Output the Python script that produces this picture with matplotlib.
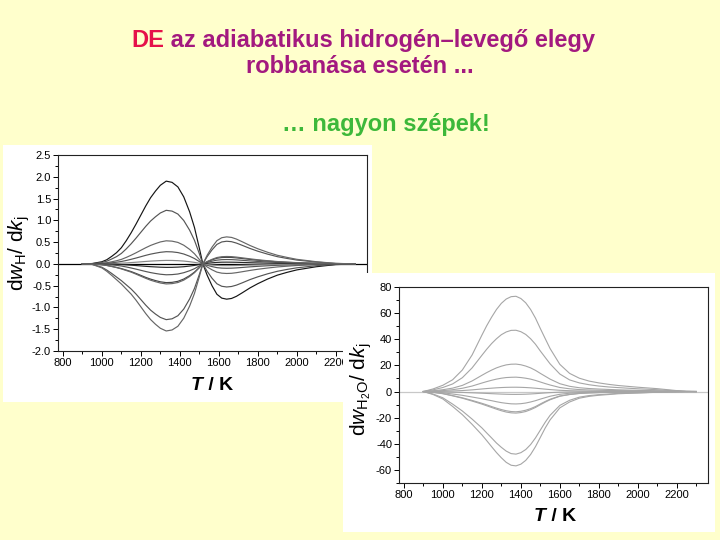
import matplotlib
matplotlib.use('Agg')
import matplotlib.pyplot as plt
from matplotlib.patches import Rectangle
from matplotlib.ticker import MultipleLocator, FormatStrFormatter

plt.rcParams['font.family'] = ['Liberation Sans', 'DejaVu Sans']
plt.rcParams['mathtext.fontset'] = 'custom'
plt.rcParams['mathtext.rm'] = 'Liberation Sans'
plt.rcParams['mathtext.it'] = 'Liberation Sans:italic'
plt.rcParams['mathtext.bf'] = 'Liberation Sans:bold'

# ---------------- data: left chart (dwH/dkj) ----------------
T_left = [900, 950, 1000, 1025, 1050, 1075, 1100, 1125, 1150, 1175, 1200, 1225, 1250, 1275, 1300,
          1330, 1360, 1390, 1420, 1450, 1475, 1500, 1518,
          1540, 1565, 1590, 1615, 1640, 1665, 1690, 1720, 1760, 1800, 1850, 1900, 1950, 2000,
          2100, 2200, 2300]
h_curve_a = [0, 0.008, 0.049, 0.095, 0.171, 0.257, 0.371, 0.532, 0.713, 0.912, 1.121, 1.33, 1.52,
             1.672, 1.805, 1.90, 1.872, 1.767, 1.539, 1.197, 0.836, 0.361, 0,
             -0.259, -0.502, -0.697, -0.786, -0.81, -0.794, -0.745, -0.664, -0.551, -0.454, -0.348,
             -0.259, -0.194, -0.138, -0.065, -0.016, 0]
h_curve_b = [0, 0.005, 0.032, 0.062, 0.111, 0.166, 0.24, 0.344, 0.461, 0.59, 0.726, 0.861, 0.984,
             1.082, 1.169, 1.23, 1.212, 1.144, 0.996, 0.775, 0.541, 0.234, 0,
             -0.17, -0.329, -0.456, -0.514, -0.53, -0.519, -0.488, -0.435, -0.36, -0.297, -0.228,
             -0.17, -0.127, -0.09, -0.042, -0.011, 0]
h_curve_c = [0, 0.002, 0.014, 0.027, 0.048, 0.072, 0.103, 0.148, 0.199, 0.254, 0.313, 0.371, 0.424,
             0.466, 0.504, 0.53, 0.522, 0.493, 0.429, 0.334, 0.233, 0.101, 0,
             -0.07, -0.136, -0.189, -0.213, -0.22, -0.216, -0.202, -0.18, -0.15, -0.123, -0.095,
             -0.07, -0.053, -0.037, -0.018, -0.004, 0]
h_curve_d = [0, 0.001, 0.007, 0.014, 0.025, 0.038, 0.055, 0.078, 0.105, 0.134, 0.165, 0.196, 0.224,
             0.246, 0.266, 0.28, 0.276, 0.26, 0.227, 0.176, 0.123, 0.053, 0,
             -0.032, -0.062, -0.086, -0.097, -0.10, -0.098, -0.092, -0.082, -0.068, -0.056, -0.043,
             -0.032, -0.024, -0.017, -0.008, -0.002, 0]
h_curve_e = [0, 0, 0.002, 0.004, 0.007, 0.011, 0.016, 0.022, 0.03, 0.038, 0.047, 0.056, 0.064,
             0.07, 0.076, 0.08, 0.079, 0.074, 0.065, 0.05, 0.035, 0.015, 0,
             -0.013, -0.025, -0.034, -0.039, -0.04, -0.039, -0.037, -0.033, -0.027, -0.022, -0.017,
             -0.013, -0.01, -0.007, -0.003, -0.001, 0]
h_curve_f = [0, 0, -0.002, -0.004, -0.007, -0.011, -0.016, -0.022, -0.03, -0.038, -0.047, -0.056, -0.064,
             -0.07, -0.076, -0.08, -0.079, -0.074, -0.065, -0.05, -0.035, -0.015, 0,
             0.013, 0.025, 0.034, 0.039, 0.04, 0.039, 0.037, 0.033, 0.027, 0.022, 0.017,
             0.013, 0.01, 0.007, 0.003, 0.001, 0]
h_curve_g = [0, -0.001, -0.0065, -0.0125, -0.0225, -0.034, -0.049, -0.07, -0.094, -0.12, -0.1475, -0.175,
             -0.20, -0.22, -0.2375, -0.25, -0.246, -0.2325, -0.2025, -0.1575, -0.11, -0.0475, 0,
             0.032, 0.062, 0.086, 0.097, 0.10, 0.098, 0.092, 0.082, 0.068, 0.056, 0.043,
             0.032, 0.024, 0.017, 0.008, 0.002, 0]
h_curve_h = [0, -0.003, -0.018, -0.034, -0.056, -0.08, -0.108, -0.142, -0.176, -0.219, -0.264, -0.31,
             -0.35, -0.383, -0.411, -0.43, -0.424, -0.40, -0.348, -0.271, -0.189, -0.082, 0,
             0.048, 0.093, 0.129, 0.146, 0.15, 0.147, 0.138, 0.123, 0.102, 0.084, 0.065,
             0.048, 0.036, 0.026, 0.012, 0.003, 0]
h_curve_i = [0, -0.003, -0.02, -0.037, -0.06, -0.085, -0.115, -0.152, -0.189, -0.235, -0.283, -0.331,
             -0.375, -0.409, -0.439, -0.46, -0.453, -0.428, -0.373, -0.29, -0.202, -0.087, 0,
             0.054, 0.105, 0.146, 0.165, 0.17, 0.167, 0.156, 0.139, 0.116, 0.095, 0.073,
             0.054, 0.041, 0.029, 0.014, 0.003, 0]
h_curve_j = [0, -0.01, -0.077, -0.141, -0.218, -0.301, -0.384, -0.48, -0.576, -0.691, -0.819, -0.947,
             -1.062, -1.152, -1.229, -1.28, -1.261, -1.19, -1.037, -0.806, -0.563, -0.243, 0,
             0.166, 0.322, 0.447, 0.504, 0.52, 0.51, 0.478, 0.426, 0.354, 0.291, 0.224,
             0.166, 0.125, 0.088, 0.042, 0.01, 0]
h_curve_k = [0, -0.012, -0.092, -0.169, -0.262, -0.362, -0.462, -0.578, -0.693, -0.832, -0.986, -1.14,
             -1.278, -1.386, -1.478, -1.54, -1.517, -1.432, -1.247, -0.97, -0.678, -0.293, 0,
             0.198, 0.384, 0.533, 0.601, 0.62, 0.608, 0.57, 0.508, 0.422, 0.347, 0.267,
             0.198, 0.149, 0.105, 0.05, 0.012, 0]

# ---------------- data: right chart (dwH2O/dkj) ----------------
T_right = [900, 950, 1000, 1050, 1100, 1150, 1200, 1225, 1250, 1275, 1300, 1325, 1350, 1375, 1400,
           1425, 1450, 1475, 1500, 1525, 1550, 1600, 1650, 1700, 1750, 1800, 1850, 1900, 2000,
           2100, 2200, 2250, 2300]
w_curve_1 = [0, 2.0, 4.8, 9.0, 16.5, 28.0, 43.1, 50.4, 56.9, 62.8, 67.5, 70.8, 72.6, 72.9, 71.2,
             67.9, 62.8, 56.2, 48.2, 40.5, 32.9, 20.8, 13.9, 10.2, 8.0, 6.6, 5.5, 4.6, 3.3,
             2.2, 0.7, 0.2, 0]
w_curve_2 = [0, 1.3, 3.1, 5.8, 10.6, 18.1, 27.7, 32.4, 36.7, 40.4, 43.5, 45.6, 46.8, 46.9, 45.8,
             43.7, 40.4, 36.2, 31.0, 26.1, 21.2, 13.4, 8.9, 6.6, 5.2, 4.2, 3.5, 3.0, 2.1,
             1.4, 0.5, 0.1, 0]
w_curve_3 = [0, 0.6, 1.4, 2.6, 4.7, 8.1, 12.4, 14.5, 16.4, 18.1, 19.4, 20.4, 20.9, 21.0, 20.5,
             19.5, 18.1, 16.2, 13.9, 11.7, 9.5, 6.0, 4.0, 2.9, 2.3, 1.9, 1.6, 1.3, 0.9,
             0.6, 0.2, 0.06, 0]
w_curve_4 = [0, 0.3, 0.7, 1.4, 2.5, 4.2, 6.5, 7.6, 8.6, 9.5, 10.2, 10.7, 10.9, 11.0, 10.7,
             10.2, 9.5, 8.5, 7.3, 6.1, 5.0, 3.1, 2.1, 1.5, 1.2, 1.0, 0.8, 0.7, 0.5,
             0.3, 0.1, 0.03, 0]
w_curve_5 = [0, 0.1, 0.22, 0.41, 0.75, 1.27, 1.95, 2.28, 2.57, 2.84, 3.05, 3.2, 3.28, 3.3, 3.22,
             3.07, 2.84, 2.54, 2.18, 1.83, 1.5, 0.94, 0.63, 0.46, 0.36, 0.3, 0.25, 0.21, 0.15,
             0.1, 0.03, 0.01, 0]
w_curve_6 = [0, -0.09, -0.22, -0.44, -0.68, -0.97, -1.28, -1.45, -1.63, -1.8, -1.96, -2.09, -2.18, -2.2,
             -2.15, -2.04, -1.86, -1.63, -1.35, -1.08, -0.84, -0.48, -0.31, -0.2, -0.14, -0.11, -0.09,
             -0.07, -0.04, -0.02, -0.01, 0, 0]
w_curve_7 = [0, -0.38, -0.95, -1.9, -2.9, -4.2, -5.5, -6.3, -7.0, -7.8, -8.5, -9.0, -9.4, -9.5, -9.3,
             -8.8, -8.0, -7.0, -5.8, -4.7, -3.6, -2.1, -1.3, -0.86, -0.62, -0.48, -0.38, -0.29, -0.19,
             -0.1, -0.04, -0.01, 0]
w_curve_8 = [0, -0.62, -1.55, -3.1, -4.8, -6.8, -9.0, -10.2, -11.5, -12.7, -13.8, -14.7, -15.3, -15.5,
             -15.1, -14.3, -13.1, -11.5, -9.5, -7.6, -5.9, -3.4, -2.2, -1.4, -1.0, -0.78, -0.62,
             -0.47, -0.31, -0.16, -0.06, -0.02, 0]
w_curve_9 = [0, -0.66, -1.65, -3.3, -5.1, -7.3, -9.6, -10.9, -12.2, -13.5, -14.7, -15.7, -16.3, -16.5,
             -16.1, -15.3, -13.9, -12.2, -10.1, -8.1, -6.3, -3.6, -2.3, -1.5, -1.07, -0.83, -0.66,
             -0.5, -0.33, -0.17, -0.07, -0.02, 0]
w_curve_10 = [0, -1.9, -4.8, -9.6, -14.9, -21.1, -27.8, -31.7, -35.5, -39.4, -42.7, -45.6, -47.5, -47.9,
              -46.8, -44.4, -40.6, -35.5, -29.5, -23.5, -18.2, -10.6, -6.7, -4.3, -3.1, -2.4, -1.9,
              -1.4, -1.0, -0.5, -0.2, -0.05, 0]
w_curve_11 = [0, -2.3, -5.7, -11.4, -17.7, -25.1, -33.1, -37.6, -42.2, -46.7, -50.7, -54.2, -56.4, -56.9,
              -55.6, -52.7, -48.2, -42.2, -35.1, -27.9, -21.7, -12.5, -8.0, -5.1, -3.7, -2.85, -2.3,
              -1.7, -1.1, -0.57, -0.23, -0.06, 0]

left_yticks = [-2.0, -1.5, -1.0, -0.5, 0.0, 0.5, 1.0, 1.5, 2.0, 2.5]
right_yticks = [-60, -40, -20, 0, 20, 40, 60, 80]
xticks = [800, 1000, 1200, 1400, 1600, 1800, 2000, 2200]

# ---------------- figure ----------------
W, H = 720, 540
fig = plt.figure(figsize=(7.2, 5.4), dpi=100)
fig.patch.set_facecolor('#FFFFCC')


def fx(px):
    return px / W


def fy(py):
    return 1 - py / H


# white picture backgrounds
fig.add_artist(Rectangle((fx(3), fy(402)), fx(369), 257 / H, transform=fig.transFigure,
                         facecolor='white', edgecolor='none', zorder=1))
fig.add_artist(Rectangle((fx(343), fy(532)), fx(372), 259 / H, transform=fig.transFigure,
                         facecolor='white', edgecolor='none', zorder=3))


def style_axes(ax, yminor, yfmt):
    ax.xaxis.set_minor_locator(MultipleLocator(100))
    ax.yaxis.set_minor_locator(MultipleLocator(yminor))
    ax.yaxis.set_major_formatter(FormatStrFormatter(yfmt))
    ax.tick_params(which='both', direction='out', top=False, right=False,
                   labelsize=8, pad=1.5, width=0.7, color='black')
    ax.tick_params(which='major', length=3.5)
    ax.tick_params(which='minor', length=2)
    for s in ax.spines.values():
        s.set_linewidth(0.8)
        s.set_color('#222222')
    ax.set_facecolor('white')


# left chart
axL = fig.add_axes([fx(58), fy(351), fx(309), 196 / H], zorder=2)
axL.axhline(0, color='black', lw=0.9)
left_series = (h_curve_a, h_curve_b, h_curve_c, h_curve_d, h_curve_e, h_curve_f,
               h_curve_g, h_curve_h, h_curve_i, h_curve_j, h_curve_k)
left_colors = ['#151515', '#555555', '#666666', '#555555', '#888888', '#2a2a2a',
               '#555555', '#444444', '#666666', '#555555', '#666666']
for ys, c in zip(left_series, left_colors):
    axL.plot(T_left, ys, color=c, lw=0.85)
style_axes(axL, 0.25, '%.1f')
axL.set_xticks(xticks)
axL.set_yticks(left_yticks)
axL.set_xlim(775, 2360)
axL.set_ylim(-2.0, 2.5)

# right chart
axR = fig.add_axes([fx(399), fy(483), fx(309), 196 / H], zorder=4)
axR.axhline(0, color='#c8c8c8', lw=0.9)
right_series = (w_curve_1, w_curve_2, w_curve_3, w_curve_4, w_curve_5, w_curve_6,
                w_curve_7, w_curve_8, w_curve_9, w_curve_10, w_curve_11)
for ys in right_series:
    axR.plot(T_right, ys, color='#a6a6a6', lw=0.8)
style_axes(axR, 10, '%d')
axR.set_xticks(xticks)
axR.set_yticks(right_yticks)
axR.set_xlim(775, 2360)
axR.set_ylim(-70, 80)

# axis labels
fig.text(fx(19), fy(253), r'd$w_{\rm H}$/ d$k_{\rm j}$', rotation=90, ha='center', va='center',
         fontsize=15, zorder=2.5)
fig.text(fx(361), fy(389), r'd$w_{\rm H_2O}$/ d$k_{\rm j}$', rotation=90, ha='center', va='center',
         fontsize=15, zorder=5)

renderer = fig.canvas.get_renderer()


def rich(parts, x_px, y_px, ha='left', zorder=5):
    objs = []
    widths = []
    for s, kw in parts:
        t = fig.text(0, 0, s, va='baseline', ha='left', zorder=zorder, **kw)
        objs.append(t)
        widths.append(t.get_window_extent(renderer).width)
    total = sum(widths)
    x0 = x_px - (total / 2 if ha == 'center' else 0)
    for t, w in zip(objs, widths):
        t.set_position((fx(x0), fy(y_px)))
        x0 += w
    return objs


rich([('T', dict(style='italic', weight='bold', fontsize=14)),
      (' / K', dict(weight='bold', fontsize=14))], 212, 390, ha='center', zorder=2.5)
rich([('T', dict(style='italic', weight='bold', fontsize=14)),
      (' / K', dict(weight='bold', fontsize=14))], 555, 521, ha='center', zorder=5)

# slide title
TS = 17
rich([('DE', dict(color='#E5114A', fontsize=TS, weight='bold')),
      (' az adiabatikus hidrogén\u2013levegő elegy', dict(color='#A3197F', fontsize=TS, weight='bold'))],
     363, 47, ha='center')
rich([('robbanása esetén ...', dict(color='#A3197F', fontsize=TS, weight='bold'))], 360, 73, ha='center')
rich([('\u2026 nagyon szépek!', dict(color='#3DB83A', fontsize=TS, weight='bold'))], 386, 131, ha='center')

fig.savefig('out.png', dpi=100, facecolor=fig.get_facecolor())
